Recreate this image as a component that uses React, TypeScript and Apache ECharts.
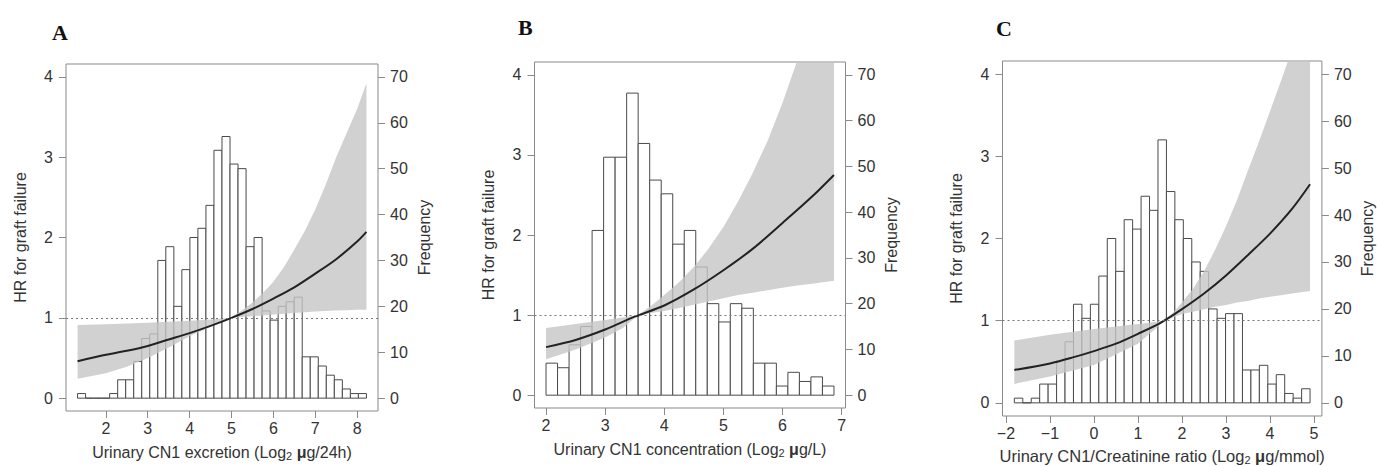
import React, { useEffect, useRef } from 'react';
import * as echarts from 'echarts';

// ---------- shared ticks ----------
const hrTicks = [0, 1, 2, 3, 4];
const freqTicks = [0, 10, 20, 30, 40, 50, 60, 70];

// ---------- Panel A ----------
const xTicksA = [2, 3, 4, 5, 6, 7, 8];
const binStartA = 1.324;
const binWidthA = 0.1916;
const countsA = [1, 0, 0, 0, 1, 4, 4, 8, 13, 14, 30, 33, 20, 28, 35, 37, 42, 54, 57, 51, 50, 33, 35, 19, 17, 20, 21, 22, 9, 9, 7, 5, 4, 2, 1, 1];
const curveXA = [1.324, 2, 2.5, 3, 3.5, 4, 4.5, 5, 5.5, 6, 6.5, 7, 7.5, 8, 8.222];
const curveYA = [0.46, 0.54, 0.59, 0.65, 0.73, 0.81, 0.9, 1.0, 1.11, 1.24, 1.38, 1.55, 1.73, 1.95, 2.07];
const bandXA = [1.324, 2, 2.5, 3, 3.5, 4, 4.5, 4.98, 5.25, 5.5, 5.75, 6, 6.25, 6.5, 6.75, 7, 7.25, 7.5, 7.75, 8, 8.222];
const bandLowA = [0.24, 0.31, 0.39, 0.5, 0.63, 0.77, 0.89, 1.0, 1.01, 1.02, 1.03, 1.04, 1.05, 1.06, 1.07, 1.08, 1.085, 1.09, 1.095, 1.1, 1.1];
const bandUpA = [0.91, 0.92, 0.93, 0.94, 0.95, 0.965, 0.98, 1.0, 1.09, 1.19, 1.31, 1.45, 1.63, 1.85, 2.08, 2.35, 2.66, 3.0, 3.3, 3.6, 3.92];

// ---------- Panel B ----------
const xTicksB = [2, 3, 4, 5, 6, 7];
const binStartB = 2.0;
const binWidthB = 0.1948;
const countsB = [7, 6, 11, 15, 36, 52, 52, 66, 55, 47, 44, 33, 36, 28, 20, 16, 20, 19, 7, 7, 2, 5, 3, 4, 2];
const curveXB = [2, 2.5, 3, 3.5, 4, 4.5, 5, 5.5, 6, 6.5, 6.87];
const curveYB = [0.6, 0.69, 0.82, 0.98, 1.12, 1.32, 1.56, 1.83, 2.15, 2.48, 2.75];
const bandXB = [2, 2.5, 3, 3.3, 3.56, 3.8, 4, 4.25, 4.5, 4.75, 5, 5.25, 5.5, 5.75, 6, 6.25, 6.5, 6.87];
const bandLowB = [0.45, 0.57, 0.72, 0.84, 1.0, 1.03, 1.05, 1.09, 1.13, 1.17, 1.21, 1.25, 1.28, 1.31, 1.34, 1.37, 1.39, 1.43];
const bandUpB = [0.84, 0.89, 0.94, 0.97, 1.0, 1.13, 1.25, 1.41, 1.6, 1.83, 2.1, 2.42, 2.78, 3.18, 3.65, 4.18, 4.8, 5.8];

// ---------- Panel C ----------
const xTicksC = [-2, -1, 0, 1, 2, 3, 4, 5];
const binStartC = -1.81;
const binWidthC = 0.192;
const countsC = [1, 0, 1, 4, 4, 9, 13, 21, 18, 21, 27, 35, 28, 39, 37, 44, 41, 56, 45, 39, 35, 30, 28, 20, 18, 19, 19, 7, 7, 8, 4, 6, 2, 1, 3];
const curveXC = [-1.81, -1, -0.5, 0, 0.5, 1, 1.5, 2, 2.5, 3, 3.5, 4, 4.5, 4.91];
const curveYC = [0.4, 0.48, 0.55, 0.63, 0.72, 0.84, 0.97, 1.14, 1.33, 1.55, 1.8, 2.06, 2.36, 2.66];
const bandXC = [-1.81, -1, 0, 1, 1.61, 1.8, 2, 2.25, 2.5, 2.75, 3, 3.25, 3.5, 3.75, 4, 4.25, 4.5, 4.91];
const bandLowC = [0.23, 0.32, 0.46, 0.72, 1.0, 1.04, 1.08, 1.11, 1.14, 1.17, 1.19, 1.22, 1.24, 1.27, 1.29, 1.31, 1.33, 1.36];
const bandUpC = [0.76, 0.83, 0.9, 0.96, 1.0, 1.1, 1.22, 1.39, 1.6, 1.86, 2.15, 2.47, 2.83, 3.18, 3.55, 3.92, 4.3, 5.1];

const panelLetters = ['A', 'B', 'C'];
const xNames = [
  'Urinary CN1 excretion (Log{sub|2} {mu|μ}g/24h)',
  'Urinary CN1 concentration (Log{sub|2} {mu|μ}g/L)',
  'Urinary CN1/Creatinine ratio (Log{sub|2} {mu|μ}g/mmol)',
];
const hrName = 'HR for graft failure';
const freqName = 'Frequency';

const panels = [
  { letter: panelLetters[0], xName: xNames[0], xTicks: xTicksA, binStart: binStartA, binWidth: binWidthA, counts: countsA, cx: curveXA, cy: curveYA, bx: bandXA, bl: bandLowA, bu: bandUpA },
  { letter: panelLetters[1], xName: xNames[1], xTicks: xTicksB, binStart: binStartB, binWidth: binWidthB, counts: countsB, cx: curveXB, cy: curveYB, bx: bandXB, bl: bandLowB, bu: bandUpB },
  { letter: panelLetters[2], xName: xNames[2], xTicks: xTicksC, binStart: binStartC, binWidth: binWidthC, counts: countsC, cx: curveXC, cy: curveYC, bx: bandXC, bl: bandLowC, bu: bandUpC },
];

// ---------- layout (positions / styles) ----------
const layout = [
  { left: 66, top: 64, width: 312, height: 347, xMin: 1.048, xMax: 8.498, tx: 52, ty: 21, nameGap: 32, nameSize: 16 },
  { left: 534.5, top: 62, width: 311, height: 346, xMin: 1.805, xMax: 7.065, tx: 518, ty: 16, nameGap: 32, nameSize: 16 },
  { left: 1002.5, top: 61, width: 319.4, height: 355, xMin: -2.079, xMax: 5.179, tx: 996, ty: 17, nameGap: 31, nameSize: 16.5 },
];
const HR_MIN = -0.16;
const HR_MAX = 4.16;
const FQ_MIN = -2.8;
const FQ_MAX = 72.8;

const FONT = '"Liberation Sans", Arial, Helvetica, sans-serif';
const TEXT = '#333';
const AXIS = '#8a8a8a';

const fmt = (v: number) => (v < 0 ? '\u2212' + Math.abs(v) : String(v));

function buildOption() {
  const grid: any[] = [];
  const xAxis: any[] = [];
  const yAxis: any[] = [];
  const series: any[] = [];
  const graphic: any[] = [];

  panels.forEach((p, g) => {
    const L = layout[g];
    grid.push({
      left: L.left, top: L.top, width: L.width, height: L.height,
      show: true, borderColor: AXIS, borderWidth: 1, backgroundColor: 'transparent',
      containLabel: false, outerBoundsMode: 'none',
    });
    xAxis.push({
      gridIndex: g, type: 'value', position: 'bottom', min: L.xMin, max: L.xMax,
      axisLine: { show: false, onZero: false },
      splitLine: { show: false },
      axisTick: { show: true, length: 7, customValues: p.xTicks, lineStyle: { color: AXIS } },
      axisLabel: { customValues: p.xTicks, formatter: fmt, margin: 9, fontSize: 16, color: TEXT, fontFamily: FONT },
      name: p.xName, nameLocation: 'middle', nameGap: L.nameGap,
      nameTextStyle: {
        fontSize: L.nameSize, color: TEXT, fontFamily: FONT, lineHeight: 18,
        rich: {
          sub: { fontSize: 11, color: TEXT, fontFamily: FONT, verticalAlign: 'bottom', lineHeight: 8 },
          mu: { fontSize: L.nameSize, color: TEXT, fontFamily: FONT, fontWeight: 'bold', lineHeight: 18 },
        },
      },
    });
    yAxis.push({
      gridIndex: g, type: 'value', position: 'left', min: HR_MIN, max: HR_MAX,
      axisLine: { show: false, onZero: false }, splitLine: { show: false },
      axisTick: { show: true, length: 7, customValues: hrTicks, lineStyle: { color: AXIS } },
      axisLabel: { customValues: hrTicks, margin: 13, fontSize: 16, color: TEXT, fontFamily: FONT },
      name: hrName, nameLocation: 'middle', nameRotate: 90, nameGap: 38,
      nameTextStyle: { fontSize: 16, color: TEXT, fontFamily: FONT },
    });
    yAxis.push({
      gridIndex: g, type: 'value', position: 'right', min: FQ_MIN, max: FQ_MAX,
      axisLine: { show: false, onZero: false }, splitLine: { show: false },
      axisTick: { show: true, length: 7, customValues: freqTicks, lineStyle: { color: AXIS } },
      axisLabel: { customValues: freqTicks, margin: 12, fontSize: 16, color: TEXT, fontFamily: FONT },
      name: freqName, nameLocation: 'middle', nameRotate: 90, nameGap: 38,
      nameTextStyle: { fontSize: 16, color: TEXT, fontFamily: FONT },
    });

    const bars = p.counts.map((c, i) => [p.binStart + i * p.binWidth, p.binStart + (i + 1) * p.binWidth, c]);
    series.push({
      type: 'custom', xAxisIndex: g, yAxisIndex: 2 * g + 1, silent: true,
      data: bars,
      renderItem: (params: any, api: any) => {
        const a = api.coord([api.value(0), api.value(2)]);
        const b = api.coord([api.value(1), 0]);
        return {
          type: 'rect',
          shape: { x: a[0], y: a[1], width: b[0] - a[0], height: b[1] - a[1] },
          style: { fill: '#ffffff', stroke: '#4a4a4a', lineWidth: 1 },
        };
      },
    });

    series.push({
      type: 'custom', xAxisIndex: g, yAxisIndex: 2 * g, silent: true, clip: true,
      data: [[p.bx[0], p.bl[0]]],
      renderItem: (params: any, api: any) => {
        const upper = p.bx.map((x, i) => api.coord([x, p.bu[i]]));
        const lower = p.bx.map((x, i) => api.coord([x, p.bl[i]])).reverse();
        return {
          type: 'polygon',
          shape: { points: upper.concat(lower) },
          style: { fill: '#c6c6c6', opacity: 0.8 },
        };
      },
    });

    series.push({
      type: 'line', xAxisIndex: g, yAxisIndex: 2 * g, silent: true,
      data: p.cx.map((x, i) => [x, p.cy[i]]),
      smooth: 0.3, symbol: 'none',
      lineStyle: { color: '#222', width: 2 },
      markLine: {
        silent: true, symbol: ['none', 'none'], label: { show: false },
        lineStyle: { color: '#777', type: [2, 3], width: 1.2 },
        data: [{ yAxis: 1 }],
      },
    });

    graphic.push({
      type: 'text', left: L.tx, top: L.ty, silent: true,
      style: { text: p.letter, font: 'bold 22px "Liberation Serif", "Times New Roman", serif', fill: '#111' },
    });
  });

  return { animation: false, backgroundColor: '#ffffff', grid, xAxis, yAxis, series, graphic };
}

export default function App() {
  const ref = useRef<HTMLDivElement>(null);
  useEffect(() => {
    if (!ref.current) return;
    const chart = echarts.init(ref.current, null, { renderer: 'svg' });
    chart.setOption(buildOption() as any);
    return () => chart.dispose();
  }, []);
  return <div ref={ref} style={{ position: 'absolute', left: 0, top: 0, width: 1377, height: 466 }} />;
}
